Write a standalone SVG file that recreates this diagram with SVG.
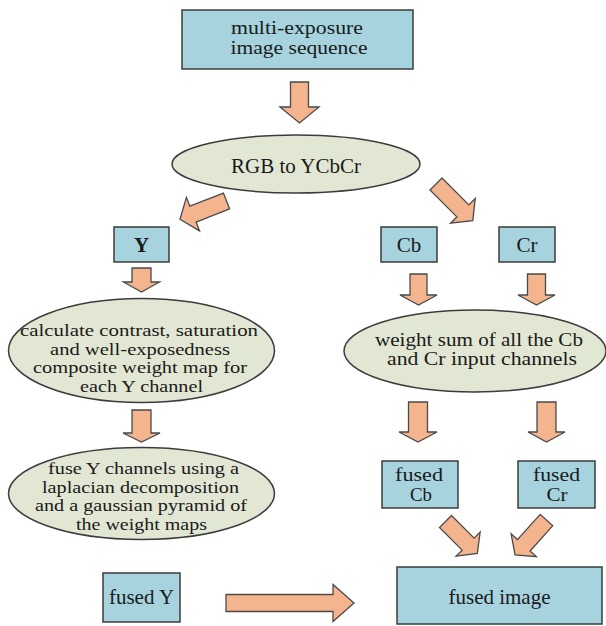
<svg xmlns="http://www.w3.org/2000/svg" width="606" height="626" viewBox="0 0 606 626">
<style>
.box{fill:#a6d3de;stroke:#3c3c3c;stroke-width:1.5}
.ell{fill:#e2e7d4;stroke:#3c3c3c;stroke-width:1.5}
.arr{fill:#f3b48e;stroke:#4a4a4a;stroke-width:1.3;stroke-linejoin:miter}
text{font-family:"Liberation Serif","Times New Roman",serif;font-size:21px;fill:#1a1a1a;text-anchor:middle}
text.s{font-size:17px}
text.m{font-size:18px}
</style>
<rect width="606" height="626" fill="#ffffff"/>
<g id="n-input">
<rect class="box" x="182" y="10" width="231" height="59"/>
<text class="m" x="297" y="33.5" textLength="132" lengthAdjust="spacingAndGlyphs">multi-exposure</text>
<text class="m" x="299" y="53.5" textLength="137" lengthAdjust="spacingAndGlyphs">image sequence</text>
</g>
<g id="n-rgb">
<ellipse class="ell" cx="296" cy="164" rx="124" ry="29"/>
<text x="296" y="173">RGB to YCbCr</text>
</g>
<g id="n-y">
<rect class="box" x="114" y="227" width="55" height="35"/>
<text x="141.5" y="252" font-weight="bold">Y</text>
</g>
<g id="n-cb">
<rect class="box" x="381" y="227" width="56" height="35"/>
<text x="409" y="252">Cb</text>
</g>
<g id="n-cr">
<rect class="box" x="499" y="227" width="56" height="35"/>
<text x="527" y="252">Cr</text>
</g>
<g id="n-weightmap">
<ellipse class="ell" cx="141.5" cy="350.5" rx="133" ry="52"/>
<text class="s" x="139" y="336" textLength="238" lengthAdjust="spacingAndGlyphs">calculate contrast, saturation</text>
<text class="s" x="140" y="354.5" textLength="180" lengthAdjust="spacingAndGlyphs">and well-exposedness</text>
<text class="s" x="140" y="373" textLength="214" lengthAdjust="spacingAndGlyphs">composite weight map for</text>
<text class="s" x="141.5" y="391.5" textLength="123" lengthAdjust="spacingAndGlyphs">each Y channel</text>
</g>
<g id="n-weightsum">
<ellipse class="ell" cx="475" cy="351" rx="131" ry="41"/>
<text class="m" x="479" y="345.5" textLength="208" lengthAdjust="spacingAndGlyphs">weight sum of all the Cb</text>
<text class="m" x="482" y="365" textLength="190" lengthAdjust="spacingAndGlyphs">and Cr input channels</text>
</g>
<g id="n-fuseY">
<ellipse class="ell" cx="141.5" cy="493.5" rx="133" ry="46"/>
<text class="s" x="143.5" y="474" textLength="191" lengthAdjust="spacingAndGlyphs">fuse Y channels using a</text>
<text class="s" x="140.5" y="492.5" textLength="197" lengthAdjust="spacingAndGlyphs">laplacian decomposition</text>
<text class="s" x="141" y="511" textLength="212" lengthAdjust="spacingAndGlyphs">and a gaussian pyramid of</text>
<text class="s" x="141.5" y="529.5" textLength="131" lengthAdjust="spacingAndGlyphs">the weight maps</text>
</g>
<g id="n-fusedcb">
<rect class="box" x="382" y="461" width="76" height="47"/>
<text class="m" x="419" y="480.5" textLength="48" lengthAdjust="spacingAndGlyphs">fused</text>
<text class="m" x="421" y="500.5" textLength="22" lengthAdjust="spacingAndGlyphs">Cb</text>
</g>
<g id="n-fusedcr">
<rect class="box" x="518" y="461" width="77" height="47"/>
<text class="m" x="556.5" y="480.5" textLength="47" lengthAdjust="spacingAndGlyphs">fused</text>
<text class="m" x="557" y="500.5" textLength="21" lengthAdjust="spacingAndGlyphs">Cr</text>
</g>
<g id="n-fusedy">
<rect class="box" x="103" y="573" width="77" height="49"/>
<text x="141.5" y="604">fused Y</text>
</g>
<g id="n-fusedimage">
<rect class="box" x="397" y="567" width="205" height="57"/>
<text x="499.5" y="604">fused image</text>
</g>
<g id="connectors">
<polygon class="arr" points="290.5,82 308.5,82 308.5,107 319,107 299.5,123 280,107 290.5,107"/>
<path class="arr" transform="translate(226.5,201) rotate(158.6)" d="M0,-8.5 H36 V-18 L50,0 L36,18 V8.5 H0 Z"/>
<path class="arr" transform="translate(436,184) rotate(45)" d="M0,-8.5 H38 V-17.5 L52,0 L38,17.5 V8.5 H0 Z"/>
<polygon class="arr" points="132,268 151,268 151,282 159.5,282 141.5,292 123.5,282 132,282"/>
<polygon class="arr" points="410,274 427,274 427,295 437,295 418.5,305 400,295 410,295"/>
<polygon class="arr" points="527.5,274 545.5,274 545.5,295 555,295 536.5,305 518,295 527.5,295"/>
<polygon class="arr" points="132,410 151,410 151,433 160,433 141.5,442 123,433 132,433"/>
<polygon class="arr" points="408.5,402 427.5,402 427.5,432 437,432 418,442 399,432 408.5,432"/>
<polygon class="arr" points="537,402 556,402 556,432 565,432 546.5,442 528,432 537,432"/>
<path class="arr" transform="translate(445.5,521.5) rotate(45)" d="M0,-8.5 H32 V-17 L45,0 L32,17 V8.5 H0 Z"/>
<path class="arr" transform="translate(546.5,520) rotate(132)" d="M0,-8.5 H34 V-17 L47,0 L34,17 V8.5 H0 Z"/>
<polygon class="arr" points="226,594.5 333,594.5 333,584.5 354,603 333,621.5 333,611.5 226,611.5"/>
</g>
</svg>
